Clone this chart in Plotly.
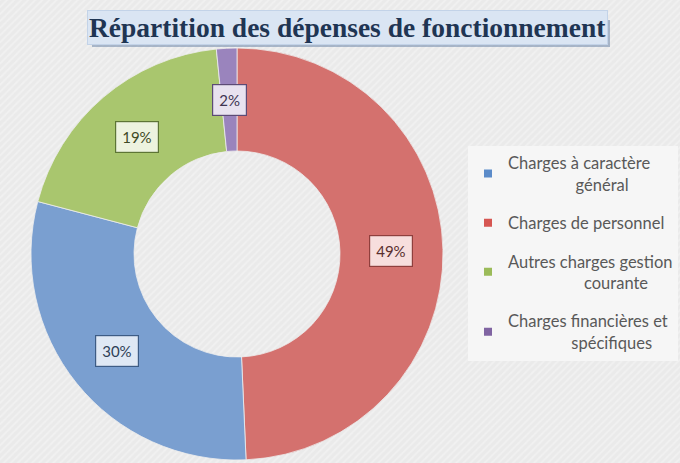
import math
import plotly.graph_objects as go

# ---- data ----
pie_labels = ["Charges de personnel", "Charges à caractère général",
              "Autres charges gestion courante", "Charges financières et spécifiques"]
pie_values = [49.3, 29.8, 19.3, 1.6]
pie_colors = ["#d4716e", "#7a9fd0", "#a9c66e", "#9a84bd"]
box_bg = ["#f7dedd", "#dfe8f4", "#edf3df", "#e8e2ef"]
box_border = ["#8f3f3d", "#3d5c85", "#5d7535", "#5c4b75"]
box_text = ["#5a2e2d", "#2e3f57", "#3d4a25", "#3f3552"]

NB = "\u00a0"
legend_labels = ["Charges à caractère<br>" + NB * 16 + "général",
                 "Charges de personnel",
                 "Autres charges gestion<br>" + NB * 18 + "courante",
                 "Charges financières et<br>" + NB * 15 + "spécifiques"]
legend_colors = ["#5b8bc9", "#d65652", "#9bbb59", "#8064a2"]

title_text = "Répartition des dépenses de fonctionnement"

W, H = 680, 463
# pie placement (pixels)
CX, CY, R = 237, 254, 206
HOLE = 0.5

fig = go.Figure()

# hatched background
fig.add_trace(go.Scatter(
    x=[0, 1, 1, 0, 0], y=[0, 0, 1, 1, 0], mode="none", fill="toself",
    fillcolor="#ececec",
    fillpattern=dict(shape="/", size=5, solidity=0.35, fgcolor="#f7f7f7", bgcolor="#eaeaea"),
    hoverinfo="skip", showlegend=False))

fig.add_trace(go.Pie(
    labels=pie_labels, values=pie_values, hole=HOLE, sort=False,
    direction="clockwise", rotation=0,
    marker=dict(colors=pie_colors, line=dict(color="#eeeeee", width=0.8)),
    textinfo="none", showlegend=False, hoverinfo="label+percent",
    domain=dict(x=[(CX - R) / W, (CX + R) / W], y=[1 - (CY + R) / H, 1 - (CY - R) / H]),
))

# legend dummy traces
for lab, col in zip(legend_labels, legend_colors):
    fig.add_trace(go.Scatter(
        x=[None], y=[None], mode="markers", name=lab, legendgroup=lab,
        marker=dict(symbol="square", size=8, color=col)))

# percentage label boxes, positioned from slice mid-angles
total = sum(pie_values)
cum = 0.0
annotations = []
for v, bg, bc, tc in zip(pie_values, box_bg, box_border, box_text):
    mid = (cum + v / 2) / total * 2 * math.pi
    cum += v
    rr = R * (1 + HOLE) / 2
    px = CX + rr * math.sin(mid)
    py = CY - rr * math.cos(mid)
    annotations.append(dict(
        x=px / W, y=1 - py / H, xref="paper", yref="paper",
        xanchor="center", yanchor="middle",
        text=f"{round(v / total * 100)}%", showarrow=False,
        font=dict(family="Lato", size=15, color=tc),
        bgcolor=bg, bordercolor=bc, borderwidth=1.2, borderpad=6))

# title box
annotations.append(dict(
    x=347 / W, y=1 - 27 / H, xref="paper", yref="paper",
    xanchor="center", yanchor="middle",
    text=f"<b>{title_text}</b>", showarrow=False,
    font=dict(family="Liberation Serif", size=27.5, color="#1f3553"),
    bgcolor="#dae5f3", bordercolor="#c3d3e8", borderwidth=1, borderpad=1))

fig.update_layout(
    width=W, height=H,
    margin=dict(l=0, r=0, t=0, b=0, pad=0),
    paper_bgcolor="#ededed", plot_bgcolor="#ededed",
    xaxis=dict(visible=False, range=[0, 1], domain=[0, 1], fixedrange=True),
    yaxis=dict(visible=False, range=[0, 1], domain=[0, 1], fixedrange=True),
    showlegend=True,
    legend=dict(x=468 / W, xanchor="left", y=1 - 253 / H, yanchor="middle",
                bgcolor="#f6f6f6", borderwidth=0,
                font=dict(family="Lato", size=16.5, color="#595959"),
                traceorder="grouped", tracegroupgap=14, itemwidth=30),
    annotations=annotations,
    shapes=[dict(type="rect", xref="paper", yref="paper",
                 x0=92 / W, x1=610 / W, y0=1 - 47 / H, y1=1 - 20 / H,
                 fillcolor="rgba(110,135,170,0.55)", line=dict(width=0), layer="above")],
)

fig.write_html("out.html", config={"displayModeBar": False},
               post_script="document.body.style.margin='0';")
